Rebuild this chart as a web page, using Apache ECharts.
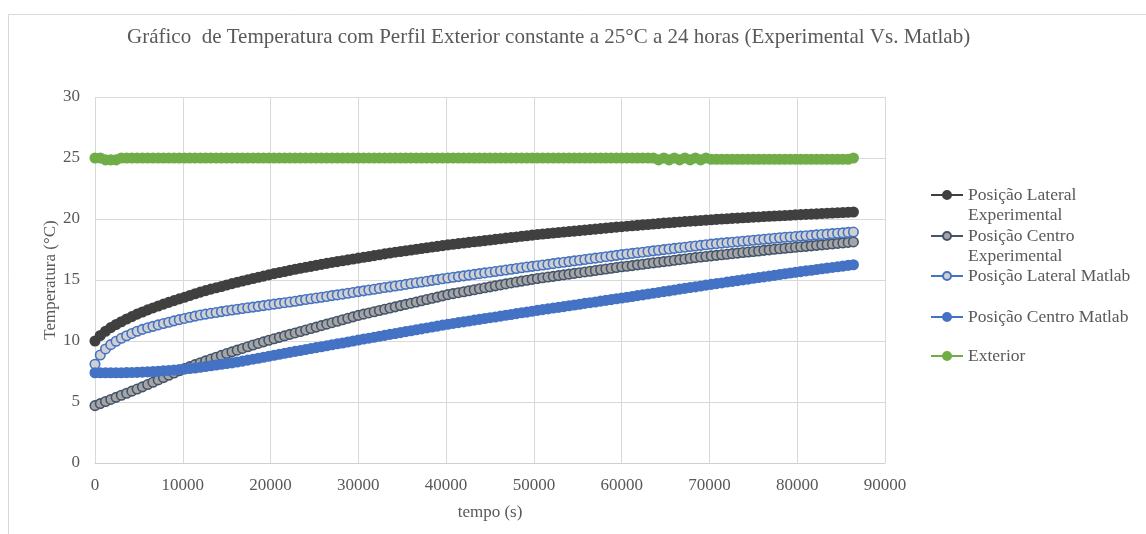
<!DOCTYPE html>
<html>
<head>
<meta charset="utf-8">
<title>Temperatura</title>
<script src="https://cdn.jsdelivr.net/npm/echarts@6/dist/echarts.min.js"></script>
<style>
    html, body { margin: 0; padding: 0; background: #fff; }
    #chart { width: 1146px; height: 534px; }
</style>
</head>
<body>
<div id="chart"></div>
<script>
// tempo (s), um ponto a cada 600 s
var tempo = [
    0, 600, 1200, 1800, 2400, 3000, 3600, 4200, 4800, 5400,
    6000, 6600, 7200, 7800, 8400, 9000, 9600, 10200, 10800, 11400,
    12000, 12600, 13200, 13800, 14400, 15000, 15600, 16200, 16800, 17400,
    18000, 18600, 19200, 19800, 20400, 21000, 21600, 22200, 22800, 23400,
    24000, 24600, 25200, 25800, 26400, 27000, 27600, 28200, 28800, 29400,
    30000, 30600, 31200, 31800, 32400, 33000, 33600, 34200, 34800, 35400,
    36000, 36600, 37200, 37800, 38400, 39000, 39600, 40200, 40800, 41400,
    42000, 42600, 43200, 43800, 44400, 45000, 45600, 46200, 46800, 47400,
    48000, 48600, 49200, 49800, 50400, 51000, 51600, 52200, 52800, 53400,
    54000, 54600, 55200, 55800, 56400, 57000, 57600, 58200, 58800, 59400,
    60000, 60600, 61200, 61800, 62400, 63000, 63600, 64200, 64800, 65400,
    66000, 66600, 67200, 67800, 68400, 69000, 69600, 70200, 70800, 71400,
    72000, 72600, 73200, 73800, 74400, 75000, 75600, 76200, 76800, 77400,
    78000, 78600, 79200, 79800, 80400, 81000, 81600, 82200, 82800, 83400,
    84000, 84600, 85200, 85800, 86400
];

var lateralExp = [
    10.00, 10.45, 10.80, 11.10, 11.35, 11.58, 11.80, 12.00, 12.20, 12.38,
    12.55, 12.71, 12.87, 13.02, 13.17, 13.31, 13.45, 13.58, 13.73, 13.87,
    14.01, 14.13, 14.25, 14.36, 14.47, 14.59, 14.70, 14.81, 14.92, 15.02,
    15.12, 15.22, 15.32, 15.42, 15.52, 15.61, 15.70, 15.79, 15.88, 15.96,
    16.04, 16.12, 16.20, 16.28, 16.36, 16.44, 16.51, 16.58, 16.65, 16.72,
    16.79, 16.86, 16.93, 17.00, 17.07, 17.14, 17.21, 17.28, 17.34, 17.40,
    17.46, 17.52, 17.58, 17.64, 17.70, 17.76, 17.82, 17.88, 17.93, 17.98,
    18.03, 18.08, 18.13, 18.18, 18.23, 18.28, 18.33, 18.38, 18.43, 18.48,
    18.53, 18.58, 18.63, 18.68, 18.73, 18.77, 18.81, 18.85, 18.89, 18.93,
    18.97, 19.01, 19.05, 19.09, 19.13, 19.17, 19.21, 19.25, 19.29, 19.33,
    19.37, 19.41, 19.45, 19.48, 19.52, 19.55, 19.59, 19.62, 19.66, 19.69,
    19.72, 19.76, 19.79, 19.82, 19.85, 19.88, 19.91, 19.94, 19.97, 20.00,
    20.02, 20.05, 20.07, 20.10, 20.12, 20.15, 20.17, 20.20, 20.22, 20.24,
    20.27, 20.29, 20.31, 20.34, 20.36, 20.38, 20.40, 20.42, 20.45, 20.47,
    20.49, 20.51, 20.53, 20.55, 20.57
];

var centroExp = [
    4.70, 4.87, 5.04, 5.21, 5.38, 5.55, 5.72, 5.89, 6.06, 6.24,
    6.43, 6.62, 6.81, 7.00, 7.19, 7.38, 7.56, 7.74, 7.90, 8.06,
    8.22, 8.37, 8.52, 8.67, 8.82, 8.97, 9.11, 9.25, 9.39, 9.53,
    9.67, 9.80, 9.93, 10.06, 10.18, 10.30, 10.42, 10.54, 10.66, 10.78,
    10.90, 11.02, 11.14, 11.26, 11.38, 11.50, 11.62, 11.74, 11.86, 11.98,
    12.10, 12.20, 12.30, 12.40, 12.50, 12.60, 12.70, 12.80, 12.90, 13.00,
    13.10, 13.20, 13.30, 13.40, 13.50, 13.60, 13.70, 13.80, 13.88, 13.96,
    14.04, 14.12, 14.20, 14.28, 14.36, 14.44, 14.52, 14.60, 14.68, 14.76,
    14.84, 14.91, 14.98, 15.05, 15.12, 15.18, 15.24, 15.30, 15.36, 15.42,
    15.48, 15.54, 15.60, 15.66, 15.72, 15.78, 15.84, 15.90, 15.96, 16.02,
    16.08, 16.13, 16.18, 16.24, 16.29, 16.35, 16.40, 16.45, 16.51, 16.56,
    16.62, 16.67, 16.72, 16.78, 16.83, 16.88, 16.93, 16.98, 17.02, 17.07,
    17.11, 17.16, 17.20, 17.25, 17.29, 17.34, 17.38, 17.43, 17.47, 17.52,
    17.56, 17.60, 17.64, 17.68, 17.72, 17.76, 17.80, 17.84, 17.88, 17.92,
    17.96, 18.00, 18.04, 18.08, 18.12
];

var lateralMatlab = [
    8.10, 8.85, 9.35, 9.70, 9.98, 10.22, 10.43, 10.62, 10.80, 10.95,
    11.08, 11.20, 11.32, 11.43, 11.54, 11.65, 11.75, 11.85, 11.95, 12.04,
    12.13, 12.20, 12.27, 12.34, 12.41, 12.48, 12.54, 12.60, 12.66, 12.72,
    12.78, 12.84, 12.90, 12.96, 13.02, 13.08, 13.14, 13.20, 13.26, 13.33,
    13.40, 13.46, 13.52, 13.58, 13.65, 13.72, 13.78, 13.84, 13.91, 13.98,
    14.05, 14.11, 14.18, 14.24, 14.31, 14.38, 14.44, 14.51, 14.57, 14.64,
    14.71, 14.77, 14.84, 14.90, 14.97, 15.03, 15.10, 15.16, 15.22, 15.28,
    15.34, 15.40, 15.46, 15.52, 15.58, 15.64, 15.70, 15.76, 15.82, 15.88,
    15.94, 16.00, 16.06, 16.12, 16.17, 16.23, 16.28, 16.34, 16.40, 16.45,
    16.51, 16.57, 16.62, 16.68, 16.74, 16.79, 16.85, 16.91, 16.96, 17.02,
    17.08, 17.13, 17.18, 17.23, 17.28, 17.34, 17.39, 17.44, 17.49, 17.54,
    17.59, 17.64, 17.69, 17.74, 17.79, 17.84, 17.89, 17.94, 17.98, 18.02,
    18.06, 18.10, 18.14, 18.18, 18.22, 18.26, 18.30, 18.34, 18.38, 18.42,
    18.46, 18.50, 18.53, 18.56, 18.60, 18.63, 18.66, 18.70, 18.73, 18.76,
    18.80, 18.83, 18.86, 18.90, 18.93
];

var centroMatlab = [
    7.40, 7.40, 7.40, 7.40, 7.40, 7.40, 7.41, 7.42, 7.43, 7.45,
    7.47, 7.49, 7.52, 7.55, 7.58, 7.61, 7.65, 7.69, 7.74, 7.79,
    7.85, 7.91, 7.97, 8.03, 8.09, 8.15, 8.21, 8.28, 8.35, 8.43,
    8.51, 8.59, 8.67, 8.75, 8.83, 8.91, 8.99, 9.07, 9.15, 9.22,
    9.30, 9.38, 9.46, 9.53, 9.61, 9.69, 9.77, 9.84, 9.92, 10.00,
    10.08, 10.16, 10.23, 10.31, 10.39, 10.46, 10.54, 10.61, 10.69, 10.77,
    10.84, 10.92, 10.99, 11.07, 11.15, 11.22, 11.30, 11.37, 11.44, 11.51,
    11.57, 11.64, 11.71, 11.77, 11.84, 11.91, 11.97, 12.04, 12.11, 12.17,
    12.24, 12.31, 12.37, 12.44, 12.51, 12.57, 12.63, 12.70, 12.76, 12.82,
    12.89, 12.95, 13.01, 13.08, 13.14, 13.20, 13.27, 13.33, 13.39, 13.46,
    13.52, 13.59, 13.65, 13.72, 13.78, 13.85, 13.92, 13.98, 14.05, 14.11,
    14.18, 14.25, 14.31, 14.38, 14.44, 14.51, 14.58, 14.64, 14.70, 14.76,
    14.83, 14.89, 14.95, 15.01, 15.07, 15.14, 15.20, 15.26, 15.32, 15.38,
    15.45, 15.51, 15.57, 15.63, 15.69, 15.75, 15.80, 15.86, 15.92, 15.97,
    16.03, 16.08, 16.14, 16.20, 16.25
];

var exterior = [
    25, 25, 24.85, 24.85, 24.85, 25, 25, 25, 25, 25,
    25, 25, 25, 25, 25, 25, 25, 25, 25, 25,
    25, 25, 25, 25, 25, 25, 25, 25, 25, 25,
    25, 25, 25, 25, 25, 25, 25, 25, 25, 25,
    25, 25, 25, 25, 25, 25, 25, 25, 25, 25,
    25, 25, 25, 25, 25, 25, 25, 25, 25, 25,
    25, 25, 25, 25, 25, 25, 25, 25, 25, 25,
    25, 25, 25, 25, 25, 25, 25, 25, 25, 25,
    25, 25, 25, 25, 25, 25, 25, 25, 25, 25,
    25, 25, 25, 25, 25, 25, 25, 25, 25, 25,
    25, 25, 25, 25, 25, 25, 25, 24.85, 25, 24.85,
    25, 24.85, 25, 24.85, 25, 24.85, 25, 24.9, 24.9, 24.9,
    24.9, 24.9, 24.9, 24.9, 24.9, 24.9, 24.9, 24.9, 24.9, 24.9,
    24.9, 24.9, 24.9, 24.9, 24.9, 24.9, 24.9, 24.9, 24.9, 24.9,
    24.9, 24.9, 24.9, 24.9, 25
];

var xTicks = [0, 90000, 10000];   // min, max, intervalo
var yTicks = [0, 30, 5];

var nomes = ['Posição Lateral Experimental', 'Posição Centro Experimental',
    'Posição Lateral Matlab', 'Posição Centro Matlab', 'Exterior'];

function pares(vals) {
    var out = [];
    for (var i = 0; i < vals.length; i++) {
        out.push([tempo[i], vals[i]]);
    }
    return out;
}

var fonte = '"Liberation Serif", "Times New Roman", serif';
var cinza = '#595959';

function serie(nome, vals, cor, corLinha) {
    return {
        name: nome,
        type: 'line',
        data: pares(vals),
        symbol: 'circle',
        symbolSize: 9.5,
        showSymbol: true,
        clip: false,
        lineStyle: { color: corLinha, width: 3 },
        itemStyle: { color: cor, borderColor: corLinha, borderWidth: 1.6 },
        emphasis: { disabled: true }
    };
}

function legenda(nome, top) {
    return {
        data: [nome],
        left: 930,
        top: top,
        padding: 0,
        itemWidth: 32,
        itemHeight: 10,
        itemGap: 0,
        selectedMode: false,
        textStyle: {
            fontFamily: fonte,
            fontSize: 17.5,
            lineHeight: 20,
            color: cinza
        },
        // a primeira linha vazia deixa "Posição ..." alinhada com o ícone
        formatter: function (n) {
            if (n === 'Posição Lateral Experimental') return '\nPosição Lateral\nExperimental';
            if (n === 'Posição Centro Experimental') return '\nPosição Centro\nExperimental';
            return n;
        }
    };
}

var chart = echarts.init(document.getElementById('chart'));

var option = {
    backgroundColor: '#fff',
    animation: false,
    graphic: [{
        type: 'rect',
        left: 6,
        top: 12,
        shape: { width: 1160, height: 560 },
        style: { fill: 'none', stroke: '#d9d9d9', lineWidth: 1 },
        silent: true
    }],
    title: {
        text: 'Gráfico  de Temperatura com Perfil Exterior constante a 25°C a 24 horas (Experimental Vs. Matlab)',
        left: 127,
        top: 27,
        padding: 0,
        textStyle: {
            fontFamily: fonte,
            fontSize: 21,
            fontWeight: 'normal',
            color: cinza
        }
    },
    legend: [
        legenda(nomes[0], 165),
        legenda(nomes[1], 206),
        legenda(nomes[2], 266),
        legenda(nomes[3], 307),
        legenda(nomes[4], 346)
    ],
    grid: {
        left: 95,
        top: 97,
        width: 790,
        height: 366
    },
    xAxis: {
        type: 'value',
        min: xTicks[0],
        max: xTicks[1],
        interval: xTicks[2],
        name: 'tempo (s)',
        nameLocation: 'middle',
        nameGap: 41,
        nameTextStyle: { fontFamily: fonte, fontSize: 17, color: cinza },
        axisLine: { show: true, lineStyle: { color: '#d0d0d0', width: 1 } },
        axisTick: { show: false },
        axisLabel: {
            margin: 14,
            fontFamily: fonte,
            fontSize: 17,
            color: cinza,
            formatter: function (v) { return String(v); }
        },
        splitLine: { show: true, lineStyle: { color: '#d9d9d9', width: 1 } }
    },
    yAxis: {
        type: 'value',
        min: yTicks[0],
        max: yTicks[1],
        interval: yTicks[2],
        name: 'Temperatura (°C)',
        nameLocation: 'middle',
        nameGap: 36,
        nameMoveOverlap: false,
        nameTextStyle: { fontFamily: fonte, fontSize: 17, color: cinza },
        axisLine: { show: false },
        axisTick: { show: false },
        axisLabel: { margin: 15, fontFamily: fonte, fontSize: 17, color: cinza },
        splitLine: { show: true, lineStyle: { color: '#d9d9d9', width: 1 } }
    },
    series: [
        serie(nomes[0], lateralExp, '#404040', '#404040'),
        serie(nomes[1], centroExp, '#a5a5a5', '#44546a'),
        serie(nomes[2], lateralMatlab, '#d0d0d0', '#4472c4'),
        serie(nomes[3], centroMatlab, '#4472c4', '#4472c4'),
        serie(nomes[4], exterior, '#70ad47', '#70ad47')
    ]
};

chart.setOption(option);
</script>
</body>
</html>
